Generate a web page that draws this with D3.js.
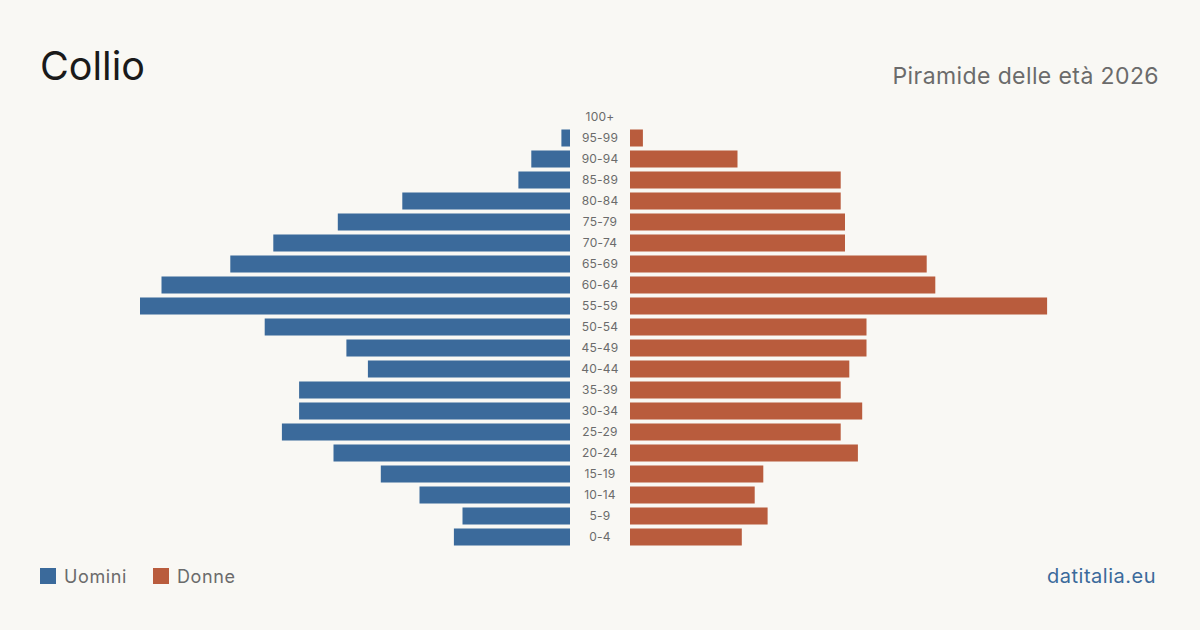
<!DOCTYPE html>
<html><head><meta charset="utf-8">
<script src="https://cdn.jsdelivr.net/npm/d3@7"></script>
<style>body{margin:0;background:#f9f8f4;}svg{display:block;font-family:Inter,"Noto Sans",sans-serif;}</style>
</head><body><svg id="c" width="1200" height="630"></svg>
<script>
const ageGroups = ["100+","95-99","90-94","85-89","80-84","75-79","70-74","65-69","60-64","55-59","50-54","45-49","40-44","35-39","30-34","25-29","20-24","15-19","10-14","5-9","0-4"];
const men   = [0,2,9,12,39,54,69,79,95,100,71,52,47,63,63,67,55,44,35,25,27];
const women = [0,3,25,49,49,50,50,69,71,97,55,55,51,49,54,49,53,31,29,32,26];
const legendLabels = ["Uomini","Donne"];
const colors = {m:"#3b6a9b", f:"#b95c3d"};

const svg = d3.select("#c");
svg.append("rect").attr("width",1200).attr("height",630).attr("fill","#f9f8f4");

const y = d3.scaleBand().domain(ageGroups).range([106.5,547.5]).paddingInner(0.19).paddingOuter(0.095);
const xm = d3.scaleLinear().domain([0,100]).range([570,140]);
const xf = d3.scaleLinear().domain([0,100]).range([630,1060]);

svg.append("g").selectAll("rect").data(ageGroups).join("rect")
  .attr("x",(d,i)=>xm(men[i])).attr("width",(d,i)=>570-xm(men[i]))
  .attr("y",d=>y(d)).attr("height",y.bandwidth()).attr("fill",colors.m);
svg.append("g").selectAll("rect").data(ageGroups).join("rect")
  .attr("x",630).attr("width",(d,i)=>xf(women[i])-630)
  .attr("y",d=>y(d)).attr("height",y.bandwidth()).attr("fill",colors.f);
svg.append("g").selectAll("text").data(ageGroups).join("text")
  .attr("x",600).attr("y",d=>y(d)+y.bandwidth()/2).attr("dy","0.35em")
  .attr("text-anchor","middle").attr("font-size",12).attr("letter-spacing",0.2).attr("fill","#6b6b6b").text(d=>d);

svg.append("text").attr("x",40).attr("y",80).attr("font-size",39.5).attr("fill","#1a1a1a").text("Collio");
svg.append("text").attr("x",1159).attr("y",84).attr("text-anchor","end").attr("font-size",23).attr("letter-spacing",0.4).attr("fill","#6b6b6b").text("Piramide delle età 2026");

const lg = svg.append("g");
[[40,colors.m,legendLabels[0]],[153,colors.f,legendLabels[1]]].forEach(([x,c,t])=>{
  lg.append("rect").attr("x",x).attr("y",568).attr("width",16).attr("height",16).attr("fill",c);
  lg.append("text").attr("x",x+24).attr("y",583).attr("font-size",18).attr("letter-spacing",0.6).attr("fill","#6b6b6b").text(t);
});
svg.append("text").attr("x",1156).attr("y",583).attr("text-anchor","end").attr("font-size",20).attr("letter-spacing",0.5).attr("fill","#3b6a9b").text("datitalia.eu");
</script></body></html>
